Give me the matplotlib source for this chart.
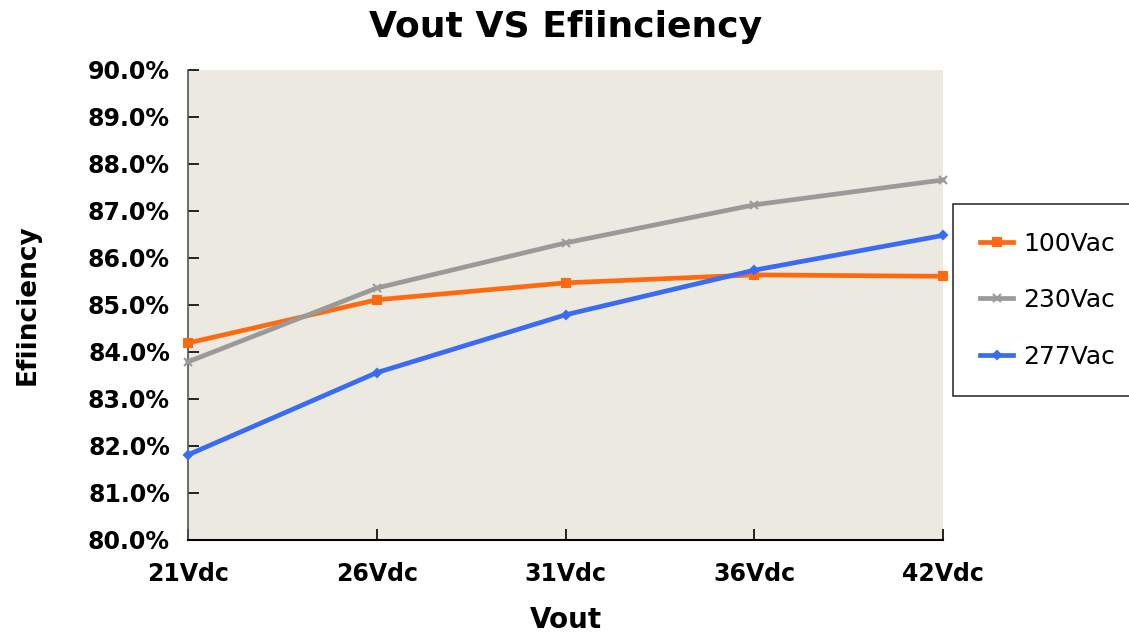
import matplotlib.pyplot as plt
from matplotlib.ticker import FuncFormatter

# ===========================
# CONFIGURATION SECTION
# ===========================

OUTPUT_PATH = "out.png"

# Data
vout_labels = ["21Vdc", "26Vdc", "31Vdc", "36Vdc", "42Vdc"]
eff_100vac = [84.19, 85.11, 85.47, 85.64, 85.61]
eff_230vac = [83.79, 85.36, 86.32, 87.13, 87.66]
eff_277vac = [81.81, 83.56, 84.79, 85.74, 86.48]
series_names = ["100Vac", "230Vac", "277Vac"]

# Styles
SERIES_STYLES = [
    {"color": "#FF6A10", "marker": "s", "markersize": 6},
    {"color": "#9A9A9A", "marker": "x", "markersize": 6},
    {"color": "#3A6BF5", "marker": "D", "markersize": 4.5},
]
PLOT_BG = "#ECE9E0"

# ===========================
# MAIN SCRIPT
# ===========================

plt.rcParams["font.family"] = ["DejaVu Sans"]
plt.rcParams["xtick.direction"] = "in"
plt.rcParams["ytick.direction"] = "in"

fig = plt.figure(figsize=(11.29, 6.4), dpi=100)
ax = fig.add_axes([0.1665, 0.1563, 0.6688, 0.7344])
ax.set_facecolor(PLOT_BG)

x = list(range(len(vout_labels)))
for name, values, style in zip(series_names, [eff_100vac, eff_230vac, eff_277vac], SERIES_STYLES):
    ax.plot(x, values, label=name, linewidth=3.4, color=style["color"],
            marker=style["marker"], markersize=style["markersize"],
            markeredgewidth=1.5, clip_on=False, zorder=3)

ax.set_xlim(0, len(vout_labels) - 1)
ax.set_ylim(80, 90)
ax.set_yticks(range(80, 91))
ax.yaxis.set_major_formatter(FuncFormatter(lambda v, _: f"{v:.1f}%"))
ax.set_xticks(x)
ax.set_xticklabels(vout_labels)

for spine in ["top", "right"]:
    ax.spines[spine].set_visible(False)
ax.spines["left"].set_color("#555555")
ax.spines["bottom"].set_color("black")
ax.spines["left"].set_linewidth(1.2)
ax.spines["bottom"].set_linewidth(1.5)

ax.tick_params(axis="y", direction="in", length=8, width=1.2, pad=13,
               labelsize=17)
ax.tick_params(axis="x", direction="in", length=8, width=1.2, pad=16,
               labelsize=17)
for lbl in ax.get_xticklabels() + ax.get_yticklabels():
    lbl.set_fontweight("bold")

ax.set_title("Vout VS Efiinciency", fontsize=26, fontweight="bold", pad=24)
ax.set_xlabel("Vout", fontsize=20, fontweight="bold", labelpad=14)
ax.set_ylabel("Efiinciency", fontsize=19, fontweight="bold", labelpad=34)

leg = fig.legend(loc="center left", bbox_to_anchor=(0.844, 0.531),
                 fontsize=18, frameon=True, fancybox=False, edgecolor="black",
                 borderpad=1.1, labelspacing=1.3, handlelength=1.3,
                 handletextpad=0.4, borderaxespad=0)
leg.get_frame().set_linewidth(1.2)

fig.savefig(OUTPUT_PATH, dpi=100)
plt.close(fig)
